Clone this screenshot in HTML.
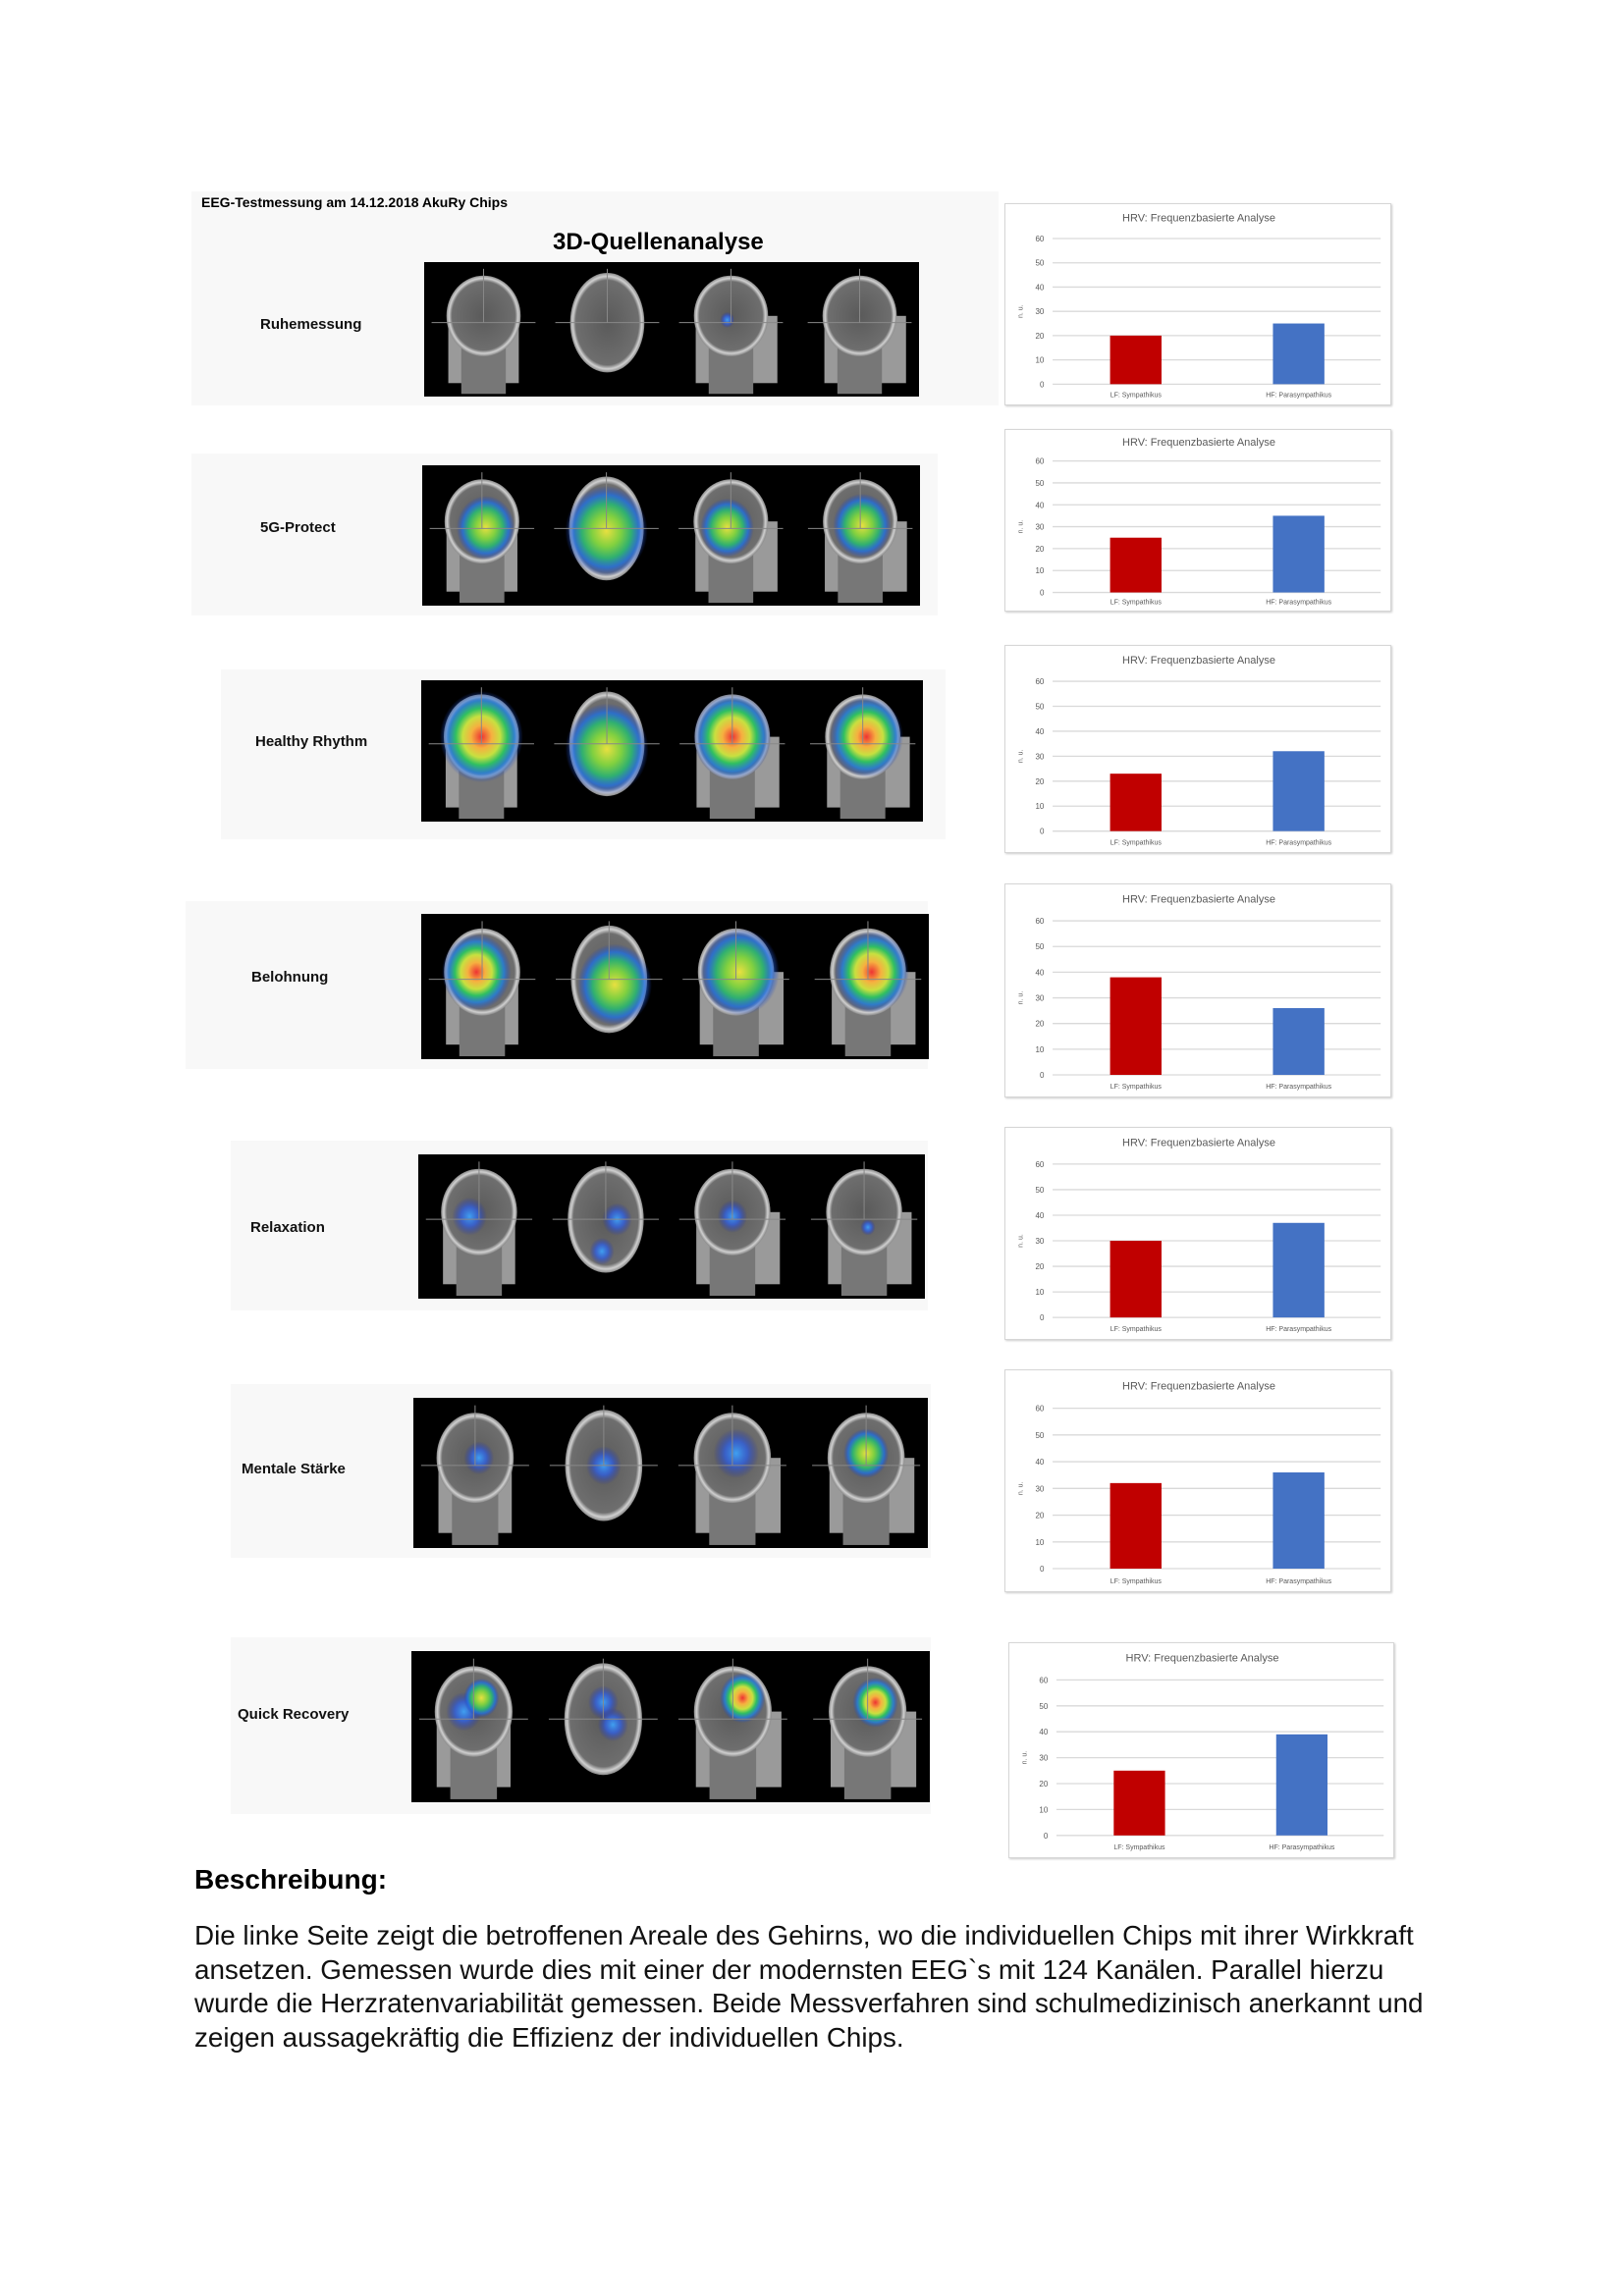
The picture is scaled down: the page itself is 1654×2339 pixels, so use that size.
<!DOCTYPE html>
<html><head><meta charset="utf-8">
<style>
html,body{margin:0;padding:0;background:#fff;}
body{width:1654px;height:2339px;position:relative;overflow:hidden;font-family:"Liberation Sans",Arial,sans-serif;}
.abs{position:absolute;z-index:5;}
.panel{position:absolute;background:#f8f8f8;}
.lbl{position:absolute;font-weight:bold;font-size:15px;color:#111;}
.chart{position:absolute;background:#fff;border:1px solid #d6d6d6;box-shadow:1px 1px 2px #ccc;box-sizing:border-box;}
</style></head><body>
<div id="root"></div>
<div class="abs" style="left:205px;top:198px;font-weight:bold;font-size:14px;">EEG-Testmessung am 14.12.2018 AkuRy Chips</div>
<div class="abs" style="left:563px;top:233px;font-weight:bold;font-size:24px;">3D-Quellenanalyse</div>

<div class="abs" style="left:198px;top:1899px;font-weight:bold;font-size:28px;">Beschreibung:</div>
<div class="abs" style="left:198px;top:1955px;width:1280px;font-size:27.8px;line-height:34.7px;color:#111;">Die linke Seite zeigt die betroffenen Areale des Gehirns, wo die individuellen Chips mit ihrer Wirkkraft ansetzen. Gemessen wurde dies mit einer der modernsten EEG`s mit 124 Kanälen. Parallel hierzu wurde die Herzratenvariabilität gemessen. Beide Messverfahren sind schulmedizinisch anerkannt und zeigen aussagekräftig die Effizienz der individuellen Chips.</div>

<script>
var rows=[
 {panel:[195,195,822,218],img:[432,267,504,137],label:"Ruhemessung",lx:265,ly:322,chart:[1023,207,394,206],v:[20,25],blobs:[[],[],[[-0.1,0.1,0.15,'c']],[]]},
 {panel:[195,462,760,165],img:[430,474,507,143],label:"5G-Protect",lx:265,ly:529,chart:[1023,437,394,186],v:[25,35],blobs:[[[0.1,0.15,0.6,'w']],[[0,0.05,0.85,'w']],[[-0.1,0.15,0.55,'w']],[[0.05,0.1,0.6,'w']]]},
 {panel:[225,682,738,173],img:[429,693,511,144],label:"Healthy Rhythm",lx:260,ly:747,chart:[1023,657,394,212],v:[23,32],blobs:[[[0,0,0.85,'h']],[[0,0.1,0.85,'w']],[[0,0,0.8,'h']],[[0.1,0,0.75,'h']]]},
 {panel:[189,918,756,171],img:[429,931,517,148],label:"Belohnung",lx:256,ly:987,chart:[1023,900,394,218],v:[38,26],blobs:[[[-0.15,0,0.7,'h']],[[0.15,0.1,0.75,'w']],[[0.1,0,0.8,'w']],[[0.1,0,0.75,'h']]]},
 {panel:[235,1162,710,173],img:[426,1176,516,147],label:"Relaxation",lx:255,ly:1242,chart:[1023,1148,394,217],v:[30,37],blobs:[[[-0.25,0.1,0.35,'c']],[[0.3,0,0.3,'c'],[-0.1,0.6,0.25,'c']],[[0,0.1,0.3,'c']],[[0.1,0.35,0.15,'c']]]},
 {panel:[235,1410,713,177],img:[421,1424,524,153],label:"Mentale Stärke",lx:246,ly:1488,chart:[1023,1395,394,227],v:[32,36],blobs:[[[0.1,0,0.3,'c']],[[0,0,0.35,'c']],[[0.1,-0.1,0.45,'c']],[[0,-0.1,0.45,'w']]]},
 {panel:[235,1668,713,180],img:[419,1682,528,154],label:"Quick Recovery",lx:242,ly:1738,chart:[1027,1673,393,220],v:[25,39],blobs:[[[-0.25,0,0.35,'c'],[0.2,-0.3,0.35,'w']],[[0,-0.3,0.3,'c'],[0.25,0.1,0.3,'c']],[[0.25,-0.3,0.45,'h']],[[0.2,-0.2,0.45,'h']]]}
];
var root=document.getElementById('root');
var NS='http://www.w3.org/2000/svg';
function defs(){
 return '<defs>'+
 '<radialGradient id="gh"><stop offset="0" stop-color="#e33"/><stop offset="0.25" stop-color="#f6b040"/><stop offset="0.45" stop-color="#c8e040"/><stop offset="0.62" stop-color="#30c060"/><stop offset="0.8" stop-color="#2080e0" stop-opacity="0.8"/><stop offset="1" stop-color="#2040c0" stop-opacity="0"/></radialGradient>'+
 '<radialGradient id="gw"><stop offset="0" stop-color="#e8e040"/><stop offset="0.35" stop-color="#80d040"/><stop offset="0.6" stop-color="#30b070"/><stop offset="0.8" stop-color="#2070e0" stop-opacity="0.8"/><stop offset="1" stop-color="#2040c0" stop-opacity="0"/></radialGradient>'+
 '<radialGradient id="gc"><stop offset="0" stop-color="#40a0f0"/><stop offset="0.5" stop-color="#3060e0" stop-opacity="0.8"/><stop offset="1" stop-color="#2030b0" stop-opacity="0"/></radialGradient>'+
 '<radialGradient id="sk"><stop offset="0" stop-color="#5a5a5a"/><stop offset="0.85" stop-color="#6e6e6e"/><stop offset="0.93" stop-color="#d0d0d0"/><stop offset="1" stop-color="#888"/></radialGradient>'+
 '</defs>';
}
rows.forEach(function(r){
 var p=document.createElement('div');p.className='panel';
 p.style.cssText='left:'+r.panel[0]+'px;top:'+r.panel[1]+'px;width:'+r.panel[2]+'px;height:'+r.panel[3]+'px;';
 root.appendChild(p);
 var l=document.createElement('div');l.className='lbl';l.textContent=r.label;
 l.style.left=r.lx+'px';l.style.top=r.ly+'px';root.appendChild(l);
 var W=r.img[2],H=r.img[3];
 var s='<svg xmlns="'+NS+'" width="'+W+'" height="'+H+'" style="position:absolute;left:'+r.img[0]+'px;top:'+r.img[1]+'px;background:#000">'+defs();
 var cxs=[0.12,0.37,0.62,0.88];
 for(var i=0;i<4;i++){
  var cx=cxs[i]*W, rx=0.075*W, cy, ry;
  if(i==1){cy=0.45*H;ry=0.37*H;}else{cy=0.4*H;ry=0.3*H;}
  if(i!=1){s+='<rect x="'+(cx-rx*0.95)+'" y="'+(cy)+'" width="'+(rx*(i==0?1.9:2.2))+'" height="'+(0.5*H)+'" fill="#9a9a9a"/>';
   s+='<rect x="'+(cx-rx*0.6)+'" y="'+(cy+ry*0.6)+'" width="'+(rx*1.2)+'" height="'+(0.4*H)+'" fill="#777"/>';}
  s+='<ellipse cx="'+cx+'" cy="'+cy+'" rx="'+rx+'" ry="'+ry+'" fill="url(#sk)"/>';
  r.blobs[i].forEach(function(b){
   var R=b[2]*rx*1.3;
   s+='<ellipse cx="'+(cx+b[0]*rx)+'" cy="'+(cy+b[1]*ry)+'" rx="'+R+'" ry="'+R*1.1+'" fill="url(#g'+b[3]+')"/>';
  });
  s+='<line x1="'+(cx-rx*1.4)+'" y1="'+(0.45*H)+'" x2="'+(cx+rx*1.4)+'" y2="'+(0.45*H)+'" stroke="#888" stroke-width="1"/>';
  s+='<line x1="'+cx+'" y1="'+(0.05*H)+'" x2="'+cx+'" y2="'+(0.45*H)+'" stroke="#888" stroke-width="1"/>';
 }
 s+='</svg>';
 var d=document.createElement('div');d.innerHTML=s;root.appendChild(d.firstChild);
 var cW=r.chart[2],cH=r.chart[3];
 var top=0.17*cH,zero=0.89*cH,gx0=0.122*cW,gx1=0.97*cW;
 var c='<svg xmlns="'+NS+'" width="'+cW+'" height="'+cH+'" style="position:absolute;left:0;top:0">';
 c+='<text x="'+(0.5*cW)+'" y="'+(0.085*cH)+'" text-anchor="middle" font-family="Liberation Sans, sans-serif" font-size="11" fill="#595959">HRV: Frequenzbasierte Analyse</text>';
 for(var k=0;k<=6;k++){
  var y=zero-(zero-top)*k/6;
  c+='<line x1="'+gx0+'" y1="'+y+'" x2="'+gx1+'" y2="'+y+'" stroke="#d9d9d9" stroke-width="1.3"/>';
  c+='<text x="'+(0.1*cW)+'" y="'+(y+3)+'" text-anchor="end" font-family="Liberation Sans, sans-serif" font-size="8" fill="#595959">'+(k*10)+'</text>';
 }
 c+='<text transform="translate('+(0.045*cW)+','+((top+zero)/2)+') rotate(-90)" text-anchor="middle" font-family="Liberation Sans, sans-serif" font-size="7" fill="#595959">n. u.</text>';
 var bw=0.133*cW;
 [[0.337,r.v[0],'#c00000'],[0.758,r.v[1],'#4472c4']].forEach(function(b){
  var h=(zero-top)*b[1]/60;
  c+='<rect x="'+(b[0]*cW-bw/2)+'" y="'+(zero-h)+'" width="'+bw+'" height="'+h+'" fill="'+b[2]+'"/>';
 });
 c+='<text x="'+(0.337*cW)+'" y="'+(0.955*cH)+'" text-anchor="middle" font-family="Liberation Sans, sans-serif" font-size="7" fill="#595959">LF: Sympathikus</text>';
 c+='<text x="'+(0.758*cW)+'" y="'+(0.955*cH)+'" text-anchor="middle" font-family="Liberation Sans, sans-serif" font-size="7" fill="#595959">HF: Parasympathikus</text>';
 c+='</svg>';
 var cd=document.createElement('div');cd.className='chart';
 cd.style.cssText='left:'+r.chart[0]+'px;top:'+r.chart[1]+'px;width:'+cW+'px;height:'+cH+'px;';
 cd.innerHTML=c;root.appendChild(cd);
});
</script>
</body></html>
